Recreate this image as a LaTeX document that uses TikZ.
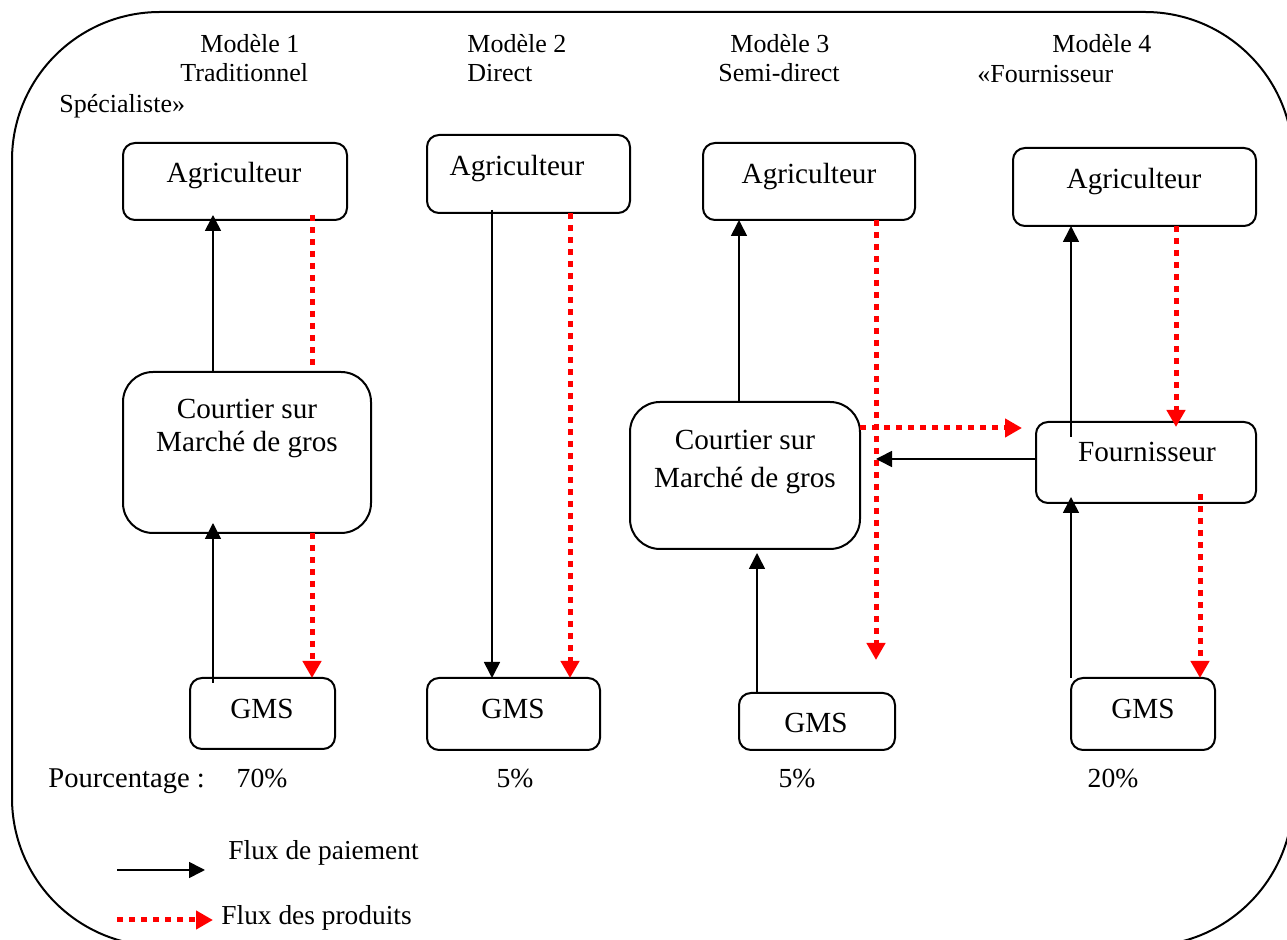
\documentclass[tikz,border=0pt]{standalone}
\usepackage{fontspec}
\setmainfont{Liberation Serif}
\usetikzlibrary{arrows.meta}
\tikzset{
  box/.style={draw, line width=1pt, rounded corners=6pt, anchor=north west, inner sep=0pt, outer sep=0pt},
  bigbox/.style={box, rounded corners=15pt},
  btxt/.style={anchor=base, inner sep=0pt, font=\fontsize{14.6}{17}\selectfont},
  ltxt/.style={anchor=base west, inner sep=0pt, font=\fontsize{13}{15}\selectfont},
  ptxt/.style={anchor=base, inner sep=0pt, font=\fontsize{13.8}{16}\selectfont},
  pay/.style={line width=0.8pt, -{Triangle[length=8pt,width=8pt]}},
  prodline/.style={red, line width=2.5pt, dash pattern=on 3pt off 3pt},
  prod/.style={prodline, -{Triangle[length=8.5pt,width=9pt]}}
}
\begin{document}
\begin{tikzpicture}[x=0.5pt,y=-0.5pt]
\useasboundingbox (0,0) rectangle (1287,940);
\clip (0,0) rectangle (1287,940);
% outer frame
\draw[line width=1pt, rounded corners=74pt] (12,12) rectangle (1293,946);

% headings
\node[ltxt] (m1) at (200,53) {Modèle 1};
\node[ltxt] (m1b) at (180,82) {Traditionnel};
\node[ltxt] (m4c) at (59,113) {Spécialiste»};
\node[ltxt] (m2) at (467,53) {Modèle 2};
\node[ltxt] (m2b) at (467,82) {Direct};
\node[ltxt] (m3) at (730,53) {Modèle 3};
\node[ltxt] (m3b) at (718,82) {Semi-direct};
\node[ltxt] (m4) at (1052,53) {Modèle 4};
\node[ltxt] (m4b) at (977,83) {«Fournisseur};

% boxes model 1
\node[box, minimum width=112pt, minimum height=38.5pt] (a1) at (123,143) {};
\node[btxt] (a1t) at (234,183) {Agriculteur};
\node[bigbox, minimum width=124pt, minimum height=80.5pt] (c1) at (123,372) {};
\node[btxt] (c1t) at (247,419) {Courtier sur};
\node[btxt] (c1u) at (247,452) {Marché de gros};
\node[box, minimum width=72.5pt, minimum height=35.5pt] (g1) at (190,678) {};
\node[btxt] (g1t) at (262,719) {GMS};

% model 2
\node[box, minimum width=101.5pt, minimum height=39pt] (a2) at (427,135) {};
\node[btxt] (a2t) at (517,176) {Agriculteur};
\node[box, minimum width=86.5pt, minimum height=36pt] (g2) at (427,678) {};
\node[btxt] (g2t) at (513,719) {GMS};

% model 3
\node[box, minimum width=106pt, minimum height=38.5pt] (a3) at (703,143) {};
\node[btxt] (a3t) at (809,184) {Agriculteur};
\node[bigbox, minimum width=115pt, minimum height=73.5pt] (c3) at (630,402) {};
\node[btxt] (c3t) at (745,450) {Courtier sur};
\node[btxt] (c3u) at (745,488) {Marché de gros};
\node[box, minimum width=78pt, minimum height=28.5pt] (g3) at (739,693) {};
\node[btxt] (g3t) at (816,733) {GMS};

% model 4
\node[box, minimum width=121.5pt, minimum height=39pt] (a4) at (1013,148) {};
\node[btxt] (a4t) at (1134,189) {Agriculteur};
\node[box, minimum width=110pt, minimum height=40.5pt] (f4) at (1036,422) {};
\node[btxt] (f4t) at (1147,462) {Fournisseur};
\node[box, minimum width=72pt, minimum height=36pt] (g4) at (1071,678) {};
\node[btxt] (g4t) at (1143,719) {GMS};

% x positions
\coordinate (X213) at (213,0);
\coordinate (X312) at (312,0);
\coordinate (X492) at (492,0);
\coordinate (X570) at (570,0);
\coordinate (X739) at (739,0);
\coordinate (X757) at (757,0);
\coordinate (X876) at (876,0);
\coordinate (X1071) at (1071,0);
\coordinate (X1176) at (1176,0);
\coordinate (X1200) at (1200,0);
\coordinate (Y428) at (0,428);
\coordinate (Y459) at (0,459);

% model 1 arrows
\draw[pay] ([yshift=-2.5pt]g1.north -| X213) -- ([yshift=5pt]c1.south -| X213);
\draw[pay] (c1.north -| X213) -- ([yshift=2.5pt]a1.south -| X213);
\draw[prodline] ([yshift=2.5pt]a1.south -| X312) -- ([yshift=2pt]c1.north -| X312);
\draw[prod] (c1.south -| X312) -- (g1.north -| X312);

% model 2 arrows
\draw[pay] ([yshift=1.5pt]a2.south -| X492) -- (g2.north -| X492);
\draw[prod] (a2.south -| X570) -- (g2.north -| X570);

% model 3 arrows
\draw[pay] (c3.north -| X739) -- (a3.south -| X739);
\draw[pay] (g3.north -| X757) -- ([yshift=-2pt]c3.south -| X757);
\coordinate (r3end) at (876,660);
\draw[prod] (a3.south -| X876) -- (r3end);
\coordinate (r3h) at (1022,428);
\draw[prod] (c3.east |- Y428) -- (r3h);
\coordinate (p3h) at (876,459);
\draw[pay] (f4.west |- Y459) -- (p3h);

% model 4 arrows
\draw[pay] ([yshift=-7.5pt]f4.north -| X1071) -- (a4.south -| X1071);
\draw[pay] (g4.north -| X1071) -- ([yshift=3pt]f4.south -| X1071);
\draw[prod] (a4.south -| X1176) -- ([yshift=-2.5pt]f4.north -| X1176);
\draw[prod] ([yshift=4.5pt]f4.south -| X1200) -- (g4.north -| X1200);

% percentages
\node[anchor=base west, inner sep=0pt, font=\fontsize{14.3}{16}\selectfont] (pc) at (48,788) {Pourcentage :};
\node[ptxt] (p1) at (262,788) {70\%};
\node[ptxt] (p2) at (515,788) {5\%};
\node[ptxt] (p3) at (797,788) {5\%};
\node[ptxt] (p4) at (1113,788) {20\%};

% legend
\coordinate (lp1) at (117,870);
\coordinate (lp2) at (205,870);
\draw[pay] (lp1) -- (lp2);
\node[anchor=base west, inner sep=0pt, font=\fontsize{13.7}{16}\selectfont] (lt1) at (228,860) {Flux de paiement};
\coordinate (lr1) at (117,920);
\coordinate (lr2) at (213,920);
\draw[prod] (lr1) -- (lr2);
\node[anchor=base west, inner sep=0pt, font=\fontsize{13.7}{16}\selectfont] (lt2) at (221,925) {Flux des produits};
\end{tikzpicture}
\end{document}
